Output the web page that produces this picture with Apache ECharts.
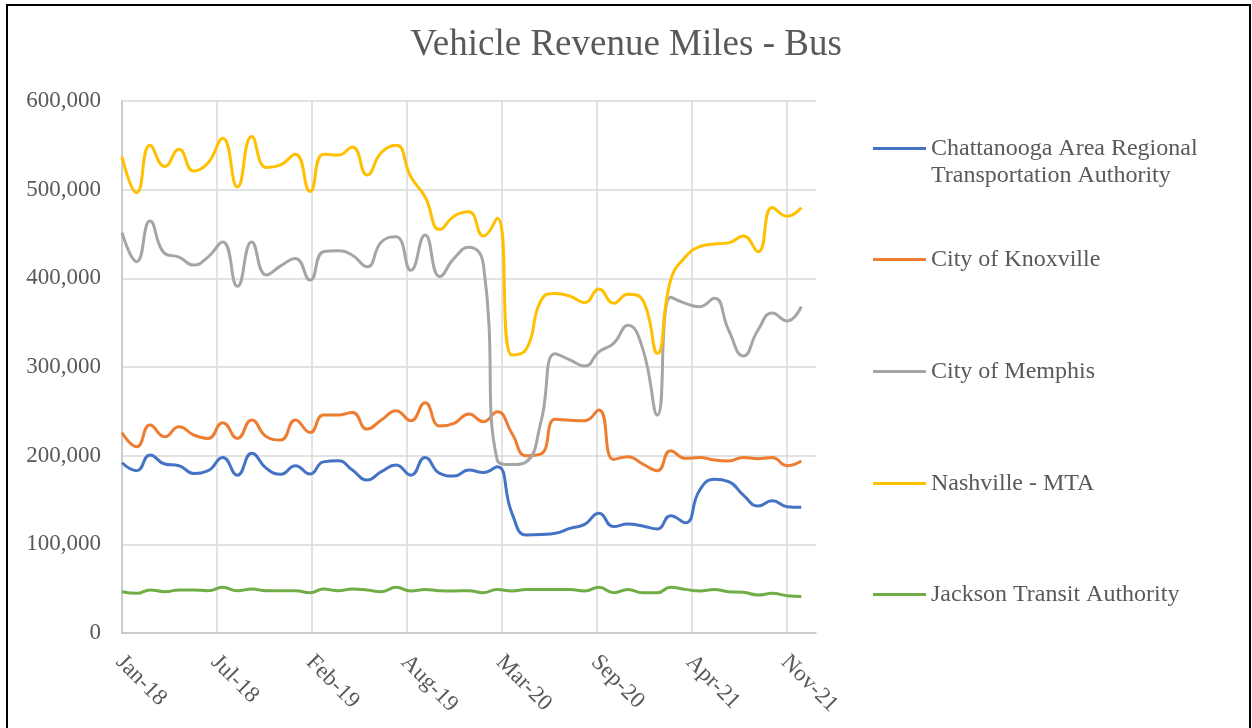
<!DOCTYPE html>
<html>
<head>
<meta charset="utf-8">
<title>Vehicle Revenue Miles - Bus</title>
<script src="https://cdn.jsdelivr.net/npm/echarts@6/dist/echarts.min.js"></script>
<style>
  html, body { margin: 0; padding: 0; background: #fff; }
  #chart { width: 1252px; height: 728px; }
</style>
</head>
<body>
<div id="chart"></div>
<script>
// monthly points, Jan 2018 .. Dec 2021
const months = [
  '2018-01','2018-02','2018-03','2018-04','2018-05','2018-06','2018-07','2018-08','2018-09','2018-10','2018-11','2018-12',
  '2019-01','2019-02','2019-03','2019-04','2019-05','2019-06','2019-07','2019-08','2019-09','2019-10','2019-11','2019-12',
  '2020-01','2020-02','2020-03','2020-04','2020-05','2020-06','2020-07','2020-08','2020-09','2020-10','2020-11','2020-12',
  '2021-01','2021-02','2021-03','2021-04','2021-05','2021-06','2021-07','2021-08','2021-09','2021-10','2021-11','2021-12'
]

// x ticks every 200 days from 1 Jan 2018
const xTickLabels = ['Jan-18', 'Jul-18', 'Feb-19', 'Aug-19', 'Mar-20', 'Sep-20', 'Apr-21', 'Nov-21']

const chattanooga = [
  192000, 183000, 200700, 190600, 188700, 180000, 183000, 198000, 178000, 202600, 185700, 179000,
  188700, 179300, 193000, 194300, 183800, 172500, 182000, 189500, 178000, 198000, 180000, 177000,
  183800, 181000, 187600, 135000, 110500, 111000, 112400, 118000, 122500, 135000, 120000, 123000,
  120700, 117300, 132300, 124400, 161000, 173300, 170700, 155600, 143200, 149200, 142500, 141700
]
const knoxville = [
  225900, 210000, 234600, 221400, 232700, 223300, 219500, 237200, 219500, 240200, 221400, 217600,
  240200, 226000, 245800, 245800, 248800, 230000, 240200, 250700, 239400, 259700, 233400, 236400,
  247000, 238300, 249600, 225000, 200000, 202000, 241000, 240000, 239400, 251500, 195800, 198900,
  190600, 183000, 205600, 197000, 198000, 195000, 194000, 198000, 196600, 198000, 188700, 194000
]
const memphis = [
  451500, 418800, 464600, 428000, 424000, 415000, 424000, 441000, 391000, 441000, 403700, 414000,
  422500, 398000, 430000, 431000, 426000, 413000, 441000, 447000, 409000, 449000, 402000, 422500,
  435000, 415000, 195000, 190000, 193000, 238000, 315000, 308000, 301000, 317000, 326700, 347000,
  321000, 245800, 378600, 371800, 368000, 377400, 341700, 312400, 341700, 361000, 352000, 368000
]
const nashville = [
  537000, 496600, 550000, 526000, 545500, 521000, 530000, 558000, 503000, 560000, 525000, 528000,
  540000, 498000, 540000, 539000, 548000, 516500, 542000, 550000, 514600, 492000, 455000, 470000,
  475000, 447700, 467700, 313500, 320000, 375000, 383000, 380000, 372600, 388000, 372000, 382000,
  375500, 315400, 398000, 424000, 435700, 438700, 440000, 447700, 430000, 480000, 470000, 479700
]
const jackson = [
  46600, 44700, 48500, 46600, 48500, 48500, 47700, 51500, 47700, 49600, 47700, 47700,
  47700, 45500, 49600, 47700, 49600, 48500, 46600, 51500, 47400, 49200, 47700, 47400,
  47700, 45500, 49200, 47400, 49200, 49200, 49200, 49200, 47400, 51500, 45500, 49200,
  45500, 45500, 51500, 49200, 47400, 49200, 46600, 45900, 42900, 44700, 42100, 41300
]

const seriesNames = [
  'Chattanooga Area Regional Transportation Authority',
  'City of Knoxville',
  'City of Memphis',
  'Nashville - MTA',
  'Jackson Transit Authority'
]
const seriesValues = [chattanooga, knoxville, memphis, nashville, jackson]
const colors = ['#4472C4', '#ED7D31', '#A5A5A5', '#FFC000', '#70AD47']

const FONT = '"Liberation Serif", "Times New Roman", serif'
const TEXT = '#595959'
const DAY = 86400000
const start = Date.UTC(2018, 0, 1)

// day offset from 1 Jan 2018, like an Excel date axis
function dayOf(m) {
  const p = m.split('-')
  return Math.round((Date.UTC(+p[0], +p[1] - 1, 1) - start) / DAY)
}

function withCommas(v) {
  return String(v).replace(/\B(?=(\d{3})+(?!\d))/g, ',')
}

const chart = echarts.init(document.getElementById('chart'))

const series = seriesNames.map(function (name, i) {
  return {
    name: name,
    type: 'line',
    smooth: 0.5,
    symbol: 'none',
    color: colors[i],
    lineStyle: { width: 3, color: colors[i] },
    data: months.map(function (m, k) { return [dayOf(m), seriesValues[i][k]] })
  }
})

// one legend per entry so they spread down the right side like Excel does
const legendTops = [108, 246, 358, 470, 581]
const legends = seriesNames.map(function (name, i) {
  return {
    data: [name],
    orient: 'vertical',
    left: 873,
    top: legendTops[i],
    padding: 0,
    icon: 'rect',
    itemWidth: 53,
    itemHeight: 3,
    selectedMode: false,
    formatter: function (n) {
      if (i === 0) return '\nChattanooga Area Regional\nTransportation Authority'
      return n
    },
    textStyle: { fontFamily: FONT, fontSize: 24, color: TEXT, lineHeight: 27 }
  }
})

chart.setOption({
  backgroundColor: '#fff',
  animation: false,
  title: {
    text: 'Vehicle Revenue Miles - Bus',
    left: 'center',
    top: 27,
    padding: [0, 0, 0, 10],
    textStyle: { fontFamily: FONT, fontSize: 37, fontWeight: 'normal', color: TEXT }
  },
  legend: legends,
  grid: { left: 122, top: 101, width: 694, height: 532, containLabel: false },
  xAxis: {
    type: 'value',
    min: 0,
    max: 1461,
    interval: 200,
    axisLine: { show: true, lineStyle: { color: '#c4c4c4', width: 1.5 } },
    axisTick: { show: false },
    splitLine: { show: true, showMaxLine: false, lineStyle: { color: '#d9d9d9', width: 1.5 } },
    axisLabel: {
      rotate: -45,
      align: 'left',
      verticalAlign: 'top',
      margin: 12,
      padding: [0, 0, 0, 8],
      showMaxLabel: false,
      fontFamily: FONT,
      fontSize: 23,
      color: TEXT,
      formatter: function (v) { return xTickLabels[Math.round(v / 200)] || '' }
    }
  },
  yAxis: {
    type: 'value',
    min: 0,
    max: 600000,
    interval: 100000,
    axisLine: { show: true, lineStyle: { color: '#c4c4c4', width: 1.5 } },
    axisTick: { show: false },
    splitLine: { show: true, lineStyle: { color: '#d9d9d9', width: 1.5 } },
    axisLabel: {
      margin: 21,
      fontFamily: FONT,
      fontSize: 23,
      color: TEXT,
      formatter: withCommas
    }
  },
  graphic: [{
    type: 'rect',
    silent: true,
    shape: { x: 7, y: 5, width: 1243, height: 760 },
    style: { fill: 'none', stroke: '#000', lineWidth: 2 }
  }],
  series: series
})
</script>
</body>
</html>
